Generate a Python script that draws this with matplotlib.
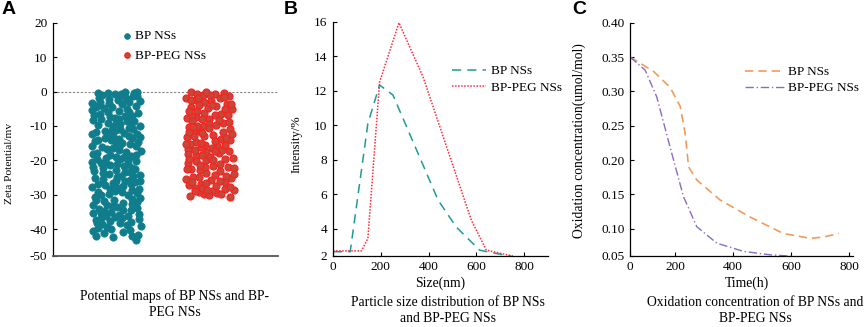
import numpy as np
import matplotlib
matplotlib.use('Agg')
import matplotlib.pyplot as plt

plt.rcParams['font.family'] = 'Liberation Serif'
plt.rcParams['font.size'] = 9.5

W, H = 865, 327

# ---- panel A: zeta potential (mV) ----
bp_zeta = [
    -0.3, -12.4, -27.8, -5.1, -35.6, -19.2, -2.7, -41.9, -22.5, -9.8,
    -31.4, -15.7, -0.8, -38.2, -24.9, -7.3, -17.6, -33.1, -11.2, -28.6,
    -3.9, -20.4, -36.8, -13.5, -26.1, -1.6, -40.3, -8.7, -30.2, -18.3,
    -23.8, -6.2, -34.5, -14.9, -42.4, -10.6, -29.3, -4.4, -21.7, -37.5,
    -16.8, -25.7, -2.1, -32.6, -12.9, -39.1, -7.9, -27.1, -19.9, -0.1,
    -35.0, -9.2, -23.1, -14.2, -30.8, -5.7, -41.2, -18.9, -26.6, -3.3,
    -11.8, -37.9, -21.0, -1.2, -33.8, -15.3, -28.2, -6.8, -43.1, -24.3,
    -17.1, -8.3, -36.1, -13.0, -2.5, -31.9, -20.8, -39.7, -10.1, -25.2,
    -4.8, -29.8, -16.2, -34.1, -22.1, -0.5, -12.0, -38.6, -7.0, -27.4,
    -19.5, -33.4, -3.0, -24.6, -14.6, -40.8, -9.5, -30.5, -1.9, -36.4,
    -26.9, -11.5, -21.4, -6.5, -35.3, -17.9, -42.1, -4.1, -28.9, -13.8,
    -32.3, -0.7, -23.5, -15.0, -38.9, -8.0, -20.1, -27.7, -2.9, -34.8,
    -10.9, -25.9, -5.4, -37.2, -18.6, -30.1, -12.7, -1.4, -40.0, -22.8,
    -16.5, -29.1, -3.6, -33.0, -9.0, -24.0, -14.4, -36.7, -6.0, -19.0,
    -27.0, -11.0, -39.4, -21.8, -2.3, -31.2, -17.3, -7.6, -35.9, -26.3,
    -13.3, -0.2, -23.3, -41.6, -10.4, -28.4, -4.6, -32.0, -18.1, -37.0,
    -15.9, -25.4, -8.5, -34.3, -20.6, -1.0, -29.6, -12.2, -38.3, -22.3,
    -5.9, -31.6, -16.0, -26.0, -3.4, -36.3, -11.6, -19.7, -9.4, -33.6,
    -24.4, -14.0, -40.6, -7.2, -28.0, -18.4, -0.4, -35.4, -21.2, -13.6,
]
bp_peg_zeta = [
    -0.2, -14.1, -25.3, -6.4, -19.8, -2.8, -28.7, -10.3, -22.0, -4.5,
    -16.6, -29.9, -8.1, -12.6, -1.3, -24.2, -18.0, -27.5, -5.2, -20.9,
    -11.4, -3.7, -26.8, -15.4, -0.9, -22.9, -9.1, -30.4, -13.2, -17.4,
    -7.4, -25.0, -2.0, -19.3, -28.3, -11.9, -4.9, -21.5, -15.8, -0.6,
    -27.2, -9.7, -13.9, -23.7, -6.1, -18.7, -1.8, -29.4, -16.9, -10.8,
    -3.1, -21.1, -26.4, -8.8, -14.7, -24.7, -0.3, -12.3, -19.5, -30.6,
    -5.6, -17.7, -22.6, -2.4, -28.9, -10.0, -15.1, -7.7, -25.6, -20.3,
    -13.0, -1.1, -27.9, -18.2, -4.2, -23.0, -11.1, -29.2, -6.7, -16.3,
    -21.9, -9.3, -0.0, -26.2, -14.4, -3.5, -19.0, -24.5, -8.4, -12.8,
    -28.1, -5.0, -17.0, -22.2, -1.5, -10.5, -29.7, -15.6, -7.1, -25.9,
    -20.0, -2.6, -13.5, -27.6, -9.9, -18.5, -4.0, -23.9, -11.7, -16.1,
    -6.9, -29.0, -21.3, -0.7, -14.9, -26.7, -8.6, -19.6, -3.9, -30.0,
    -12.0, -24.8, -17.2, -5.8, -22.4, -1.9, -28.5, -10.2, -15.3, -7.9,
]

# ---- panel B: particle size distribution ----
size_bp = [0, 72, 146, 195, 251, 440, 516, 614, 753]
int_bp = [2.67, 2.67, 10.1, 12.33, 11.75, 5.66, 4.1, 2.76, 2.38]
size_peg = [0, 119, 146, 195, 276, 377, 579, 642, 753]
int_peg = [2.72, 2.72, 3.44, 12.5, 15.94, 12.8, 4.5, 2.76, 2.42]

# ---- panel C: oxidation concentration ----
t_bp = [45, 126, 183, 218, 235, 247, 275, 355, 459, 574, 667, 713, 765]
ox_bp = [0.35, 0.329, 0.306, 0.278, 0.239, 0.19, 0.171, 0.142, 0.117, 0.093, 0.086, 0.088, 0.093]
t_peg = [45, 97, 137, 183, 229, 275, 344, 436, 528, 603]
ox_peg = [0.35, 0.331, 0.292, 0.219, 0.147, 0.103, 0.079, 0.067, 0.062, 0.060]

teal = '#0f7d8c'
red_face = '#c24a3a'
red_edge = '#ff1f1f'


def rect(x0, x1, ytop, ybot):
    return [x0 / W, 1 - ybot / H, (x1 - x0) / W, (ybot - ytop) / H]


def ftext(x, y, s, **kw):
    fig.text(x / W, 1 - y / H, s, **kw)


def style(ax):
    for s in ['top', 'right']:
        ax.spines[s].set_visible(False)
    ax.tick_params(direction='in', length=3, width=0.8, pad=4)
    for s in ['left', 'bottom']:
        ax.spines[s].set_linewidth(0.9)


def spread(ax, xc, vals, half=24.5, m=6):
    # best-candidate placement: for each dot try m quasi-random x slots
    # inside a strip of fixed pixel width and keep the one with most room
    unit = ax.transData.transform((xc + 1, 0))[0] - ax.transData.transform((xc, 0))[0]
    placed = []
    for i, v in enumerate(vals):
        py = ax.transData.transform((xc, v))[1]
        best, bestd = 0.0, -1.0
        for j in range(m):
            c = (2 * (((i * m + j) * 0.6180339887 + 0.13) % 1.0) - 1) * half
            d = min((np.hypot(c - qx, py - qy) for qx, qy in placed), default=1e9)
            if d > bestd:
                best, bestd = c, d
        placed.append((best, py))
    return [xc + p[0] / unit for p in placed]


fig = plt.figure(figsize=(W / 100, H / 100), dpi=100)

# ---------- A ----------
axA = fig.add_axes(rect(53, 278, 22.7, 255.7))
style(axA)
axA.set_xlim(0.324, 2.735)
axA.set_ylim(-47.7, 20)
axA.set_yticks([20, 10, 0, -10, -20, -30, -40, -47.7])
axA.set_yticklabels(['20', '10', '0', '-10', '-20', '-30', '-40', '-50'])
axA.set_xticks([])
axA.spines['bottom'].set_color('#555555')
axA.spines['bottom'].set_linewidth(1.3)
axA.axhline(0, color='#888888', lw=0.8, ls=(0, (2, 1.5)), zorder=1)
xa = spread(axA, 1.0, bp_zeta)
xb = spread(axA, 2.0, bp_peg_zeta)
axA.scatter(xa, bp_zeta, s=28, color=teal, edgecolors=teal, linewidths=0.5, zorder=3, label='BP NSs')
axA.scatter(xb, bp_peg_zeta, s=25, color=red_face, edgecolors=red_edge, linewidths=0.9, zorder=3, label='BP-PEG NSs')
axA.legend(loc='upper left', bbox_to_anchor=((105 - 53) / 225, 1.008), frameon=False,
           handletextpad=-0.4, labelspacing=0.55, borderpad=0.2, markerscale=0.78,
           prop={'size': 9.5})
ftext(10, 163, 'Zeta Potential/mv', rotation=90, ha='center', va='center', fontsize=8.2)
ftext(175, 296, 'Potential maps of BP NSs and BP-', ha='center', va='center', fontsize=9.8)
ftext(175, 313, 'PEG NSs', ha='center', va='center', fontsize=9.8)

# ---------- B ----------
axB = fig.add_axes(rect(333, 548, 21.7, 255.7))
style(axB)
axB.set_xlim(0, 900)
axB.set_ylim(2.44, 16)
axB.set_xticks([0, 200, 400, 600, 800])
axB.set_yticks([16, 14, 12, 10, 8, 6, 4, 2.44])
axB.set_yticklabels(['16', '14', '12', '10', '8', '6', '4', '2'])
axB.plot(size_bp, int_bp, color='#1f9a98', lw=1.1, ls=(0, (6, 4)), label='BP NSs')
axB.plot(size_peg, int_peg, color='#ff2a3a', lw=1.1, ls=(0, (1, 1)), label='BP-PEG NSs')
axB.legend(loc='upper left', bbox_to_anchor=((440 - 333) / 215, 0.865), frameon=False,
           handlelength=2.6, handletextpad=0.4, labelspacing=0.3, prop={'size': 9.5})
ftext(297, 144, 'Intensity/%', rotation=90, ha='center', va='center', fontsize=9.0)
ftext(440, 283, 'Size(nm)', ha='center', va='center', fontsize=9.8)
ftext(448, 302, 'Particle size distribution of BP NSs', ha='center', va='center', fontsize=9.8)
ftext(448, 319, 'and BP-PEG NSs', ha='center', va='center', fontsize=9.8)

# ---------- C ----------
axC = fig.add_axes(rect(630, 853, 22.7, 255.7))
style(axC)
axC.set_xlim(44.8, 814)
axC.set_ylim(0.0607, 0.40)
axC.set_xticks([44.8, 200, 400, 600, 800])
axC.set_xticklabels(['0', '200', '400', '600', '800'])
axC.set_yticks([0.40, 0.35, 0.30, 0.25, 0.20, 0.15, 0.10, 0.0607])
axC.set_yticklabels(['0.40', '0.35', '0.30', '0.25', '0.20', '0.15', '0.10', '0.05'])
axC.plot(t_bp, ox_bp, color='#f39a5c', lw=1.2, ls=(0, (5, 3)), label='BP NSs')
axC.plot(t_peg, ox_peg, color='#8a6cc0', lw=1.0, ls=(0, (6, 2, 1, 2)), label='BP-PEG NSs')
axC.legend(loc='upper left', bbox_to_anchor=((733 - 630) / 223, 0.865), frameon=False,
           handlelength=3.0, handletextpad=0.3, labelspacing=0.3, prop={'size': 9.5})
ftext(579, 141, 'Oxidation concentration(umol/mol)', rotation=90, ha='center', va='center', fontsize=9.8)
ftext(747, 283, 'Time(h)', ha='center', va='center', fontsize=9.8)
ftext(755, 302, 'Oxidation concentration of BP NSs and', ha='center', va='center', fontsize=9.8)
ftext(755, 319, 'BP-PEG NSs', ha='center', va='center', fontsize=9.8)

# panel letters
for x, s in [(2, 'A'), (284, 'B'), (572, 'C')]:
    ftext(x, 10, s, ha='left', va='center', fontsize=14, fontweight='bold', family='Liberation Sans')

fig.savefig('out.png', dpi=100)
